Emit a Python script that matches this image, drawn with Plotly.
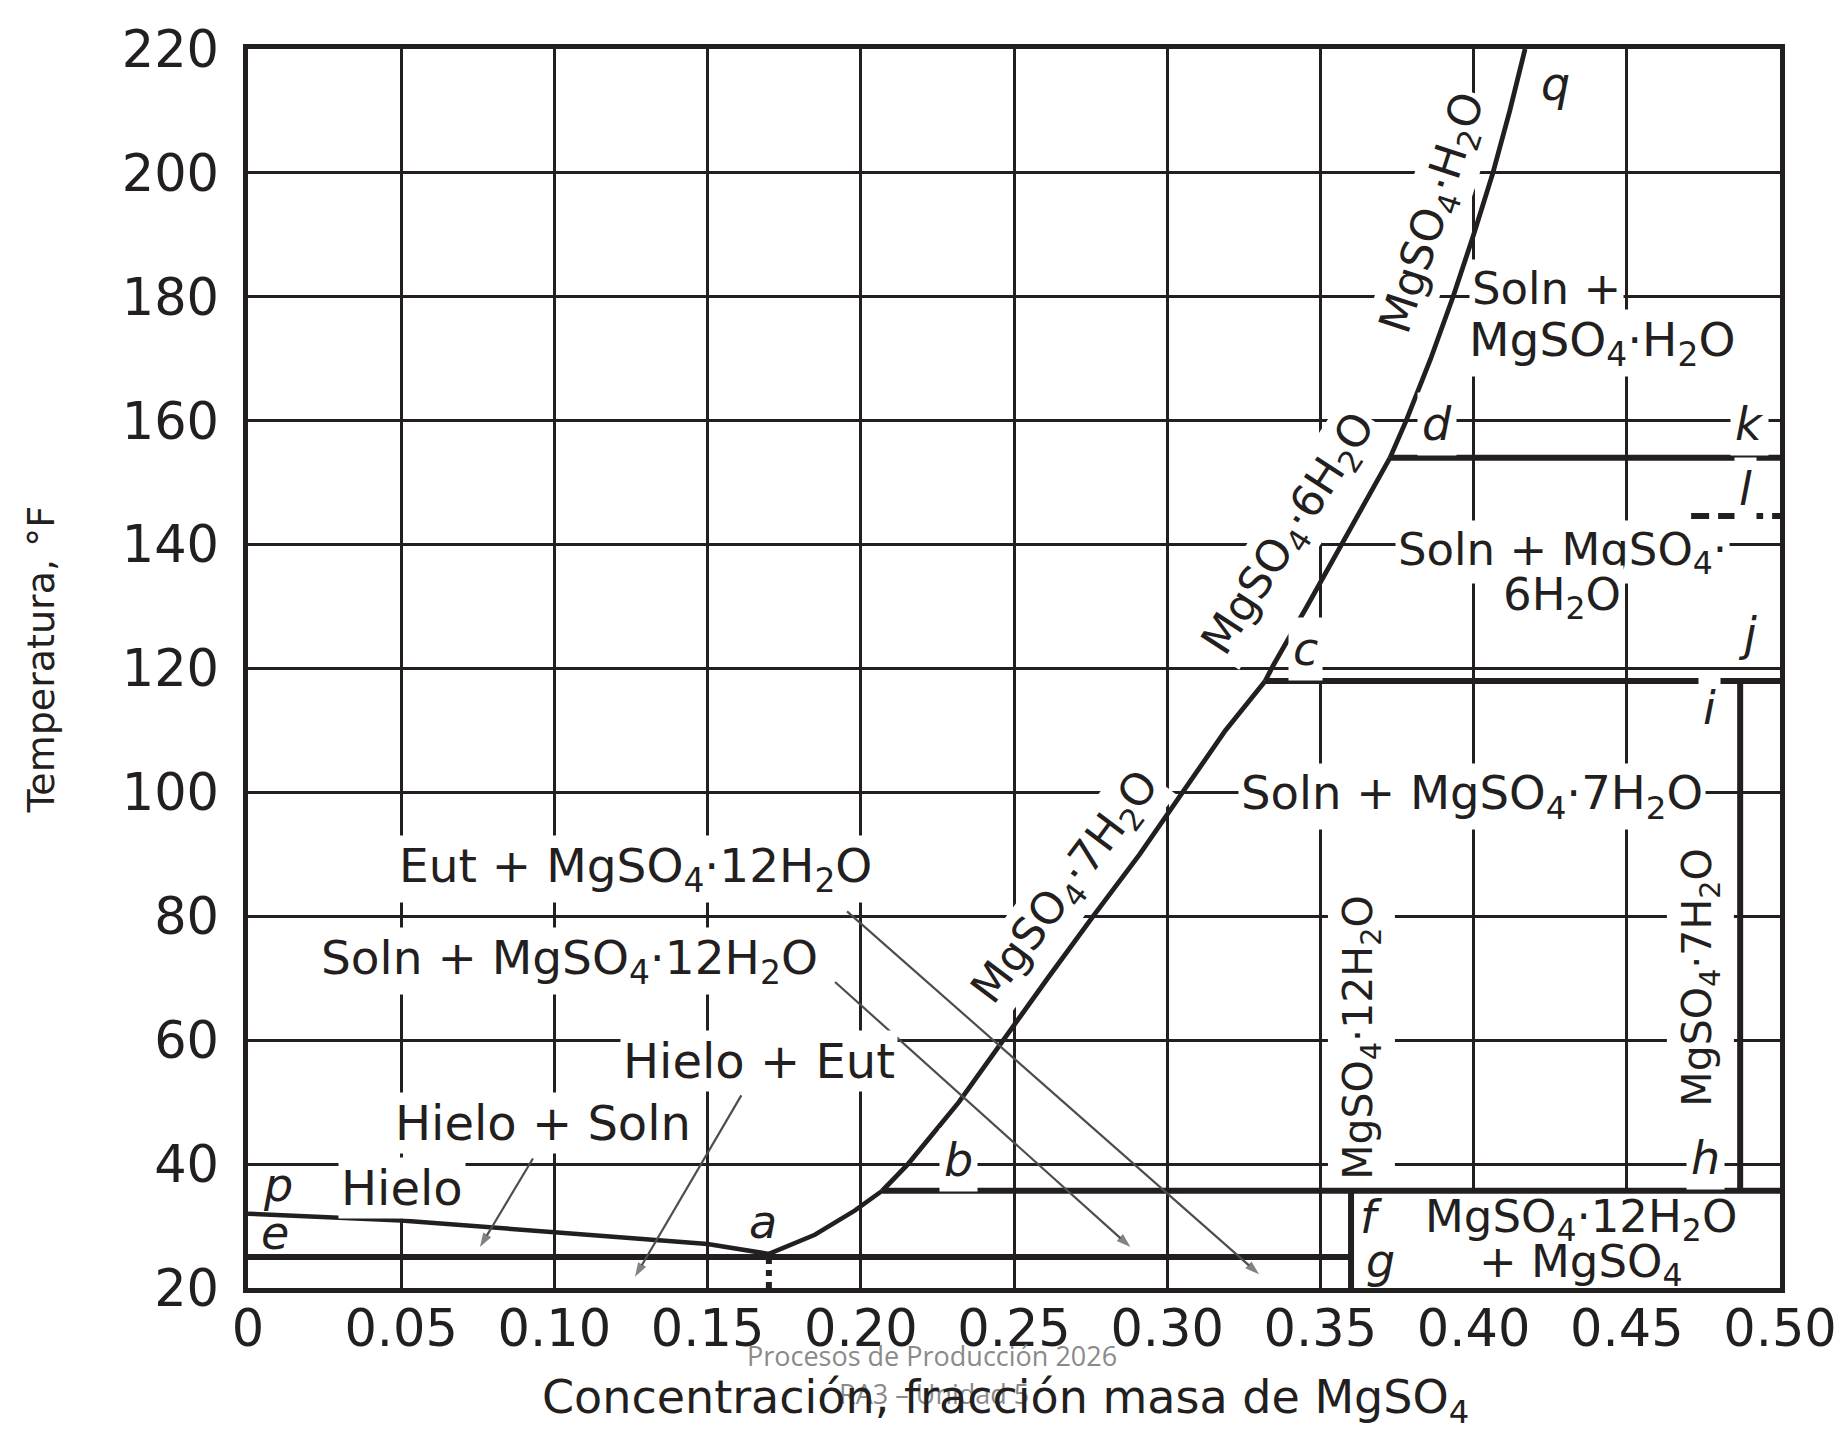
import plotly.graph_objects as go

# ---------------- data ----------------
# ice / solution curve  p -> a
ice_x = [0.0, 0.05, 0.10, 0.15, 0.170]
ice_T = [32.0, 30.9, 29.0, 27.1, 25.5]
# MgSO4.12H2O solubility  a -> b
ab_x = [0.170, 0.185, 0.198, 0.207]
ab_T = [25.5, 28.6, 32.5, 35.7]
# MgSO4.7H2O solubility  b -> c
hept_x = [0.207, 0.2154, 0.232, 0.2464, 0.261, 0.2758, 0.291, 0.305, 0.319, 0.332]
hept_T = [35.7, 40, 50, 60, 70, 80, 90, 100, 110, 118]
# MgSO4.6H2O solubility  c -> d
hexa_x = [0.332, 0.3345, 0.3456, 0.357, 0.3727]
hexa_T = [118, 120.4, 130, 140, 154]
# MgSO4.H2O solubility  d -> q
mono_x = [0.3727, 0.378, 0.386, 0.3933, 0.400, 0.4063, 0.4118, 0.4168]
mono_T = [154, 160, 170, 180, 190, 200, 210, 220]

# horizontal isotherms (eutectic, b, c, d)
iso_T = [25.0, 35.7, 118.0, 154.0]
iso_x0 = [0.0, 0.207, 0.332, 0.3727]
iso_x1 = [0.36, 0.50, 0.50, 0.50]
# vertical composition lines (12H2O, 7H2O)
vert_x = [0.36, 0.487]
vert_T0 = [20.0, 35.7]
vert_T1 = [35.7, 118.0]
# dashed marks
dash_l_x = [0.471, 0.50]
dash_l_T = [144.6, 144.6]
dash_a_x = [0.170, 0.170]
dash_a_T = [20.0, 25.0]

# axis ticks
x_ticks = [0.0, 0.05, 0.10, 0.15, 0.20, 0.25, 0.30, 0.35, 0.40, 0.45, 0.50]
x_ticktext = ["0", "0.05", "0.10", "0.15", "0.20", "0.25", "0.30", "0.35", "0.40", "0.45", "0.50"]
y_ticks = [20, 40, 60, 80, 100, 120, 140, 160, 180, 200, 220]

# region labels: text, x, T, size
region_text = [
    "Eut + MgSO<sub>4</sub>·12H<sub>2</sub>O",
    "Soln + MgSO<sub>4</sub>·12H<sub>2</sub>O",
    "Hielo + Eut",
    "Hielo + Soln",
    "Hielo",
    "Soln + MgSO<sub>4</sub>·7H<sub>2</sub>O",
    "Soln + MgSO<sub>4</sub>·",
    "6H<sub>2</sub>O",
]
region_x = [0.1266, 0.1048, 0.1668, 0.0964, 0.0503, 0.3995, 0.4290, 0.4290]
region_T = [87.6, 72.8, 56.6, 46.6, 36.2, 99.3, 138.8, 131.5]
region_size = [47, 47, 48, 48, 48, 46.5, 45, 45]

# left-anchored labels (Soln + MgSO4.H2O)
left_text = ["Soln +", "MgSO<sub>4</sub>·H<sub>2</sub>O"]
left_x = [0.3985, 0.3975]
left_T = [181.3, 172.6]
left_size = [45, 47]

# labels without background (inside the f-g box)
plain_text = ["MgSO<sub>4</sub>·12H<sub>2</sub>O", "+ MgSO<sub>4</sub>"]
plain_x = [0.435, 0.4348]
plain_T = [31.2, 23.9]

# vertical labels
vlabel_text = ["MgSO<sub>4</sub>·12H<sub>2</sub>O", "MgSO<sub>4</sub>·7H<sub>2</sub>O"]
vlabel_x = [0.3633, 0.4739]
vlabel_T = [60.4, 70.1]

# curve labels (rotated)
clabel_text = ["MgSO<sub>4</sub>·7H<sub>2</sub>O", "MgSO<sub>4</sub>·6H<sub>2</sub>O", "MgSO<sub>4</sub>·H<sub>2</sub>O"]
clabel_x = [0.267, 0.3400, 0.387]
clabel_T = [84.5, 141.7, 193.5]
clabel_angle = [-53, -57, -72]

# point letters
pt_text = ["p", "e", "a", "b", "c", "d", "k", "l", "j", "i", "h", "f", "g", "q"]
pt_x = [0.0098, 0.0089, 0.168, 0.232, 0.345, 0.388, 0.490, 0.4886, 0.4895, 0.477, 0.4758, 0.3665, 0.3695, 0.4266]
pt_T = [36.6, 28.8, 30.6, 40.6, 123.2, 159.5, 159.5, 148.9, 125.6, 113.6, 41.0, 31.4, 24.4, 214.4]
pt_bg = [False, False, False, True, True, True, True, True, True, True, True, False, False, False]

# leader arrows: tail (x,T) -> head (x,T)
arr_tail_x = [0.1955, 0.1916, 0.161, 0.093]
arr_tail_T = [80.8, 69.4, 51.1, 40.9]
arr_head_x = [0.330, 0.288, 0.1263, 0.0757]
arr_head_T = [22.2, 26.6, 21.8, 26.6]

# ---------------- figure ----------------
INK = "#231f20"
FONT = "DejaVu Sans"

fig = go.Figure()

# white out grid inside the f-g box
fig.add_shape(type="rect", x0=vert_x[0], x1=0.5, y0=20, y1=iso_T[1],
              fillcolor="white", line_width=0, layer="between")

def add_line(xs, ys, width, dash=None):
    fig.add_trace(go.Scatter(x=xs, y=ys, mode="lines", hoverinfo="skip",
                             line=dict(color=INK, width=width, dash=dash),
                             showlegend=False))

add_line(ice_x, ice_T, 4.5)
add_line(ab_x, ab_T, 4.5)
add_line(hept_x, hept_T, 4.8)
add_line(hexa_x, hexa_T, 4.8)
add_line(mono_x, mono_T, 4.8)
for T, x0, x1 in zip(iso_T, iso_x0, iso_x1):
    add_line([x0, x1], [T, T], 6)
for x, t0, t1 in zip(vert_x, vert_T0, vert_T1):
    add_line([x, x], [t0, t1], 6)
add_line(dash_l_x, dash_l_T, 6, "18px,9px")
add_line(dash_a_x, dash_a_T, 6, "6px,6px")

# leader arrows (line + arrow marker at the head)
for tx, tT, hx, hT in zip(arr_tail_x, arr_tail_T, arr_head_x, arr_head_T):
    fig.add_trace(go.Scatter(
        x=[tx, hx], y=[tT, hT], mode="lines+markers", hoverinfo="skip", showlegend=False,
        line=dict(color="#4d4d4d", width=2.2),
        marker=dict(symbol=["circle", "arrow"], size=[0, 15], color="#4d4d4d",
                    angleref="previous", line=dict(width=0)),
    ))

ann = []
# watermark (behind the axis title)
ann.append(dict(text="Procesos de Producción 2026", xref="paper", yref="paper",
                x=0.4465, y=0, yanchor="middle", yshift=-67, showarrow=False,
                font=dict(family="Open Sans", size=27, color="#8a8a8a")))
ann.append(dict(text="RA3 – Unidad 5", xref="paper", yref="paper",
                x=0.448, y=0, yanchor="middle", yshift=-105, showarrow=False,
                font=dict(family="Open Sans", size=27, color="#8a8a8a")))
# axis titles
ann.append(dict(text="Concentración, fracción masa de MgSO<sub>4</sub>", xref="paper", yref="paper",
                x=0.4945, xanchor="center", y=0, yanchor="middle", yshift=-112, showarrow=False,
                font=dict(family=FONT, size=46, color=INK)))
ann.append(dict(text="Temperatura, °F", xref="paper", yref="paper",
                x=0, xanchor="center", xshift=-207, y=0.5065, yanchor="middle",
                textangle=-90, showarrow=False,
                font=dict(family=FONT, size=38, color=INK)))

for t, x, T, s in zip(region_text, region_x, region_T, region_size):
    ann.append(dict(text=t, x=x, y=T, showarrow=False, bgcolor="white", borderpad=2,
                    font=dict(family=FONT, size=s, color=INK)))
for t, x, T, s in zip(left_text, left_x, left_T, left_size):
    ann.append(dict(text=t, x=x, y=T, xanchor="left", showarrow=False, bgcolor="white",
                    borderpad=2, font=dict(family=FONT, size=s, color=INK)))
for t, x, T in zip(plain_text, plain_x, plain_T):
    ann.append(dict(text=t, x=x, y=T, showarrow=False,
                    font=dict(family=FONT, size=45, color=INK)))
for t, x, T in zip(vlabel_text, vlabel_x, vlabel_T):
    ann.append(dict(text=t, x=x, y=T, textangle=-90, showarrow=False, bgcolor="white",
                    borderpad=6, font=dict(family=FONT, size=41, color=INK)))
for t, x, T, a in zip(clabel_text, clabel_x, clabel_T, clabel_angle):
    ann.append(dict(text=t, x=x, y=T, textangle=a, showarrow=False, bgcolor="white",
                    borderpad=2, font=dict(family=FONT, size=44, color=INK)))
for t, x, T, bg in zip(pt_text, pt_x, pt_T, pt_bg):
    ann.append(dict(text="<i>" + t + "</i>", x=x, y=T, showarrow=False,
                    bgcolor="white" if bg else "rgba(0,0,0,0)", borderpad=4,
                    font=dict(family=FONT, size=46, color=INK)))

# the page body adds an 8 px offset; margins compensate so the plot area
# sits at x 248..1780, y 41..1288 in the screenshot
fig.update_layout(
    width=1845, height=1432,
    margin=dict(l=240, r=73, t=33, b=152),
    paper_bgcolor="white", plot_bgcolor="white",
    annotations=ann,
    xaxis=dict(range=[0, 0.5], tickvals=x_ticks, ticktext=x_ticktext,
               showgrid=True, gridcolor=INK, gridwidth=3, zeroline=False,
               showline=True, mirror=True, linecolor=INK, linewidth=4.5,
               ticks="", ticklabelstandoff=-8,
               tickfont=dict(family=FONT, size=51, color=INK)),
    yaxis=dict(range=[20, 220], tickvals=y_ticks,
               showgrid=True, gridcolor=INK, gridwidth=3, zeroline=False,
               showline=True, mirror=True, linecolor=INK, linewidth=4.5,
               ticks="", ticklabelstandoff=14,
               tickfont=dict(family=FONT, size=51, color=INK)),
)

fig.write_html("out.html")
